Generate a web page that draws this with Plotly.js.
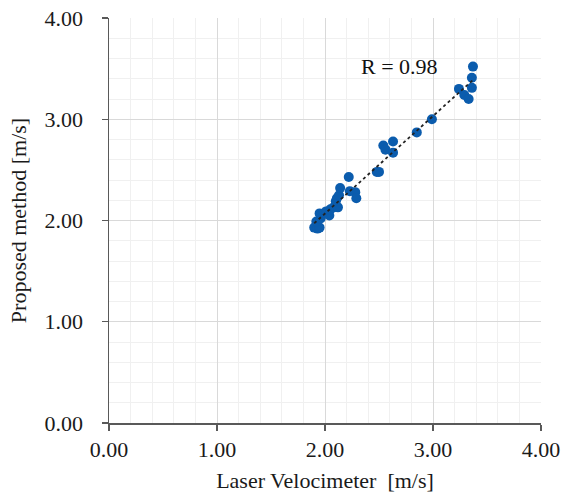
<!DOCTYPE html>
<html>
<head>
<meta charset="utf-8">
<script src="https://cdn.plot.ly/plotly-3.0.1.min.js"></script>
<style>html,body{margin:0;padding:0;background:#fff;}#chart{width:562px;height:493px;}</style>
</head>
<body>
<div id="chart"></div>
<script>
// Laser Velocimeter readings [m/s]
const laserVelocimeter = [1.90,1.93,1.95,1.92,1.96,1.95,2.01,2.04,2.05,2.08,2.12,2.10,2.11,2.13,2.14,2.22,2.23,2.28,2.29,2.48,2.50,2.54,2.56,2.63,2.63,2.85,2.99,3.24,3.29,3.33,3.36,3.36,3.37];
// Proposed method readings [m/s]
const proposedMethod   = [1.93,1.92,1.93,1.99,2.02,2.07,2.09,2.05,2.11,2.13,2.13,2.19,2.22,2.25,2.32,2.43,2.29,2.28,2.22,2.48,2.48,2.74,2.70,2.67,2.78,2.87,3.00,3.30,3.24,3.20,3.31,3.41,3.52];
const tickValues = [0,1,2,3,4];
const tickLabels = ["0.00","1.00","2.00","3.00","4.00"];
const rLabel = "R = 0.98";

// linear trendline (least squares) from the data
const n = laserVelocimeter.length;
const mx = laserVelocimeter.reduce((a,b)=>a+b,0)/n;
const my = proposedMethod.reduce((a,b)=>a+b,0)/n;
let sxy=0, sxx=0;
for(let i=0;i<n;i++){sxy+=(laserVelocimeter[i]-mx)*(proposedMethod[i]-my);sxx+=(laserVelocimeter[i]-mx)**2;}
const slope = sxy/sxx, icpt = my - slope*mx;
const xmin = Math.min(...laserVelocimeter), xmax = Math.max(...laserVelocimeter);
const trendX = [xmin, xmax];
const trendY = trendX.map(v=>icpt+slope*v);

const serif = "Liberation Serif, Times New Roman, serif";
const txt = '#1a1a1a';
const axisCommon = {
  range:[0,4], tickvals:tickValues, ticktext:tickLabels,
  showgrid:true, gridcolor:'#d9d9d9', gridwidth:1,
  minor:{dtick:0.2, showgrid:true, gridcolor:'#f0f0f0', gridwidth:1},
  zeroline:false, showline:true, linecolor:'#595959', linewidth:1.5,
  ticks:'outside', ticklen:6, tickcolor:'#595959', tickwidth:1.3,
  tickfont:{family:serif, size:22, color:txt},
  fixedrange:true
};

const data = [
  {x:laserVelocimeter, y:proposedMethod, type:'scatter', mode:'markers',
   marker:{color:'#0b5cad', size:10}, hoverinfo:'skip'},
  {x:trendX, y:trendY, type:'scatter', mode:'lines',
   line:{color:'#222222', width:1.8, dash:'dot'}, hoverinfo:'skip'}
];

const layout = {
  width:562, height:493,
  margin:{l:109, r:21, t:18, b:70},
  paper_bgcolor:'#ffffff', plot_bgcolor:'#ffffff',
  showlegend:false,
  xaxis:Object.assign({}, axisCommon, {
    title:{text:"Laser Velocimeter&nbsp;&nbsp;[m/s]", font:{family:serif, size:22, color:txt}, standoff:12}
  }),
  yaxis:Object.assign({}, axisCommon, {
    ticklabelstandoff:14,
    title:{text:"Proposed method [m/s]", font:{family:serif, size:22, color:txt}, standoff:12}
  }),
  annotations:[{x:2.69, y:3.52, xref:'x', yref:'y', text:rLabel, showarrow:false,
    font:{family:serif, size:22, color:'#111'}}]
};

Plotly.newPlot('chart', data, layout, {displayModeBar:false, staticPlot:true});
</script>
</body>
</html>
